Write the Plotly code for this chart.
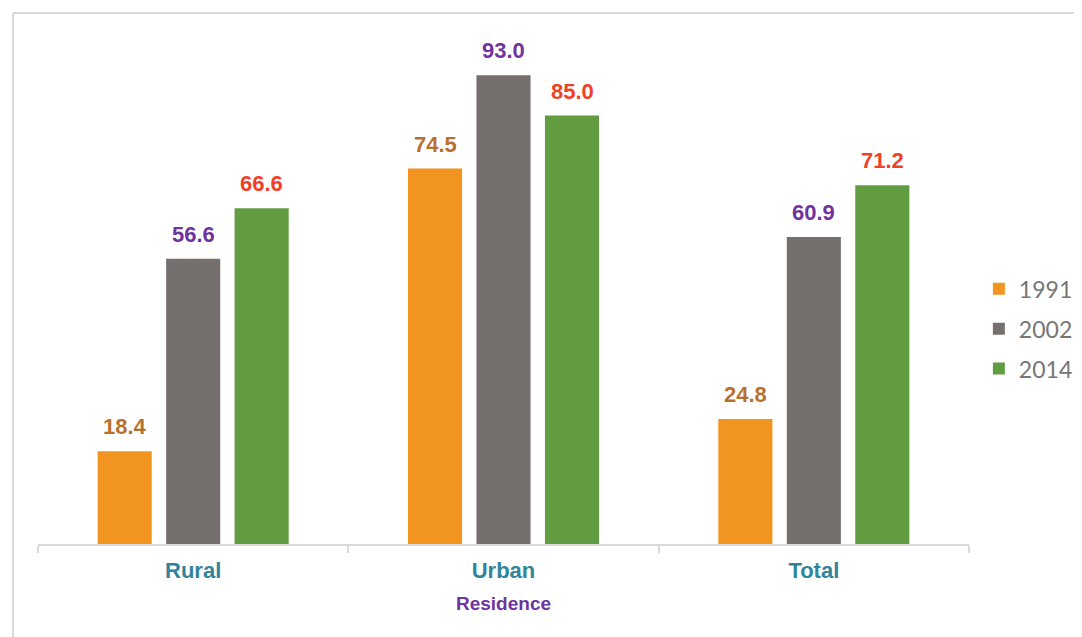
import plotly.graph_objects as go

# data
residence = ["Rural", "Urban", "Total"]
years = ["1991", "2002", "2014"]
values_1991 = [18.4, 74.5, 24.8]
values_2002 = [56.6, 93.0, 60.9]
values_2014 = [66.6, 85.0, 71.2]

bar_colors = ["#F29420", "#75706E", "#629C40"]
label_colors = ["#B7712F", "#7034A0", "#EE4128"]

series = [values_1991, values_2002, values_2014]

fig = go.Figure()

for i, (year, vals) in enumerate(zip(years, series)):
    fig.add_trace(go.Bar(
        x=residence,
        y=vals,
        name=year,
        legendgroup=year,
        marker=dict(color=bar_colors[i], line=dict(width=0)),
    ))
    # value labels sit a bit higher above the bars than plotly's outside text
    for cat, v in zip(residence, vals):
        fig.add_annotation(
            x=cat, y=v, text=f"<b>{v:.1f}</b>", showarrow=False,
            xshift=(i - 1) * 68.5, yshift=10, yanchor="bottom",
            font=dict(family="Arial, Liberation Sans", size=22, color=label_colors[i]),
        )

# page body has an 8px margin, so margins are shifted to keep the plot area in place
fig.update_layout(
    width=1082,
    height=637,
    barmode="group",
    bargap=0.338,
    bargroupgap=0.21,
    plot_bgcolor="white",
    paper_bgcolor="white",
    margin=dict(l=30, r=121, t=32, b=101, pad=0, autoexpand=False),
    legend=dict(
        x=1.0106, y=0.427, xanchor="left", yanchor="middle",
        font=dict(family="Lato", size=23, color="#767676"),
        tracegroupgap=7,
        bgcolor="rgba(0,0,0,0)",
    ),
    showlegend=True,
)

fig.update_xaxes(
    showline=True, linecolor="#D9D9D9", linewidth=2,
    ticks="outside", tickson="boundaries", ticklen=7, tickcolor="#D9D9D9", tickwidth=2,
    ticklabelstandoff=6,
    tickfont=dict(family="Arial, Liberation Sans", size=22, color="#31849B", weight="bold"),
    title=dict(text="<b>Residence</b>", font=dict(family="Arial, Liberation Sans", size=19, color="#7034A0"),
               standoff=14),
    showgrid=False,
)

fig.update_yaxes(
    range=[0, 100], visible=False, showgrid=False,
)

# outer chart frame (top and left edges visible in the crop)
frame = dict(color="#D9D9D9", width=2)
fig.add_shape(type="line", xref="paper", yref="paper",
              x0=-0.0269, x1=1.13, y0=1.0536, y1=1.0536, line=frame)
fig.add_shape(type="line", xref="paper", yref="paper",
              x0=-0.0269, x1=-0.0269, y0=1.0536, y1=-0.19, line=frame)

fig.write_html("out.html")
